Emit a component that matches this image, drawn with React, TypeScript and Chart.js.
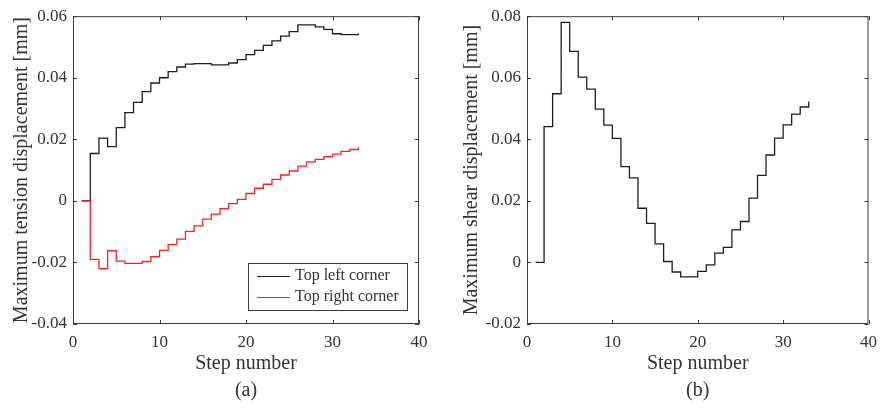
import React, { useEffect, useRef } from "react";
import { Chart, registerables } from "chart.js";

Chart.register(...registerables);

// Load step numbers
const STEPS = [
  1, 2, 3, 4, 5, 6, 7, 8, 9, 10, 11, 12, 13, 14, 15, 16, 17, 18, 19, 20, 21,
  22, 23, 24, 25, 26, 27, 28, 29, 30, 31, 32, 33,
];

// (a) Maximum tension displacement [mm]
const TOP_LEFT = [
  0, 0.0154, 0.0204, 0.0176, 0.0238, 0.0287, 0.032, 0.0355, 0.0383, 0.04,
  0.042, 0.0435, 0.0444, 0.0446, 0.0446, 0.0442, 0.0442, 0.0448, 0.0459,
  0.0475, 0.0489, 0.0505, 0.052, 0.0535, 0.055, 0.0572, 0.0572, 0.0565,
  0.0557, 0.0543, 0.054, 0.054, 0.0544,
];
const TOP_RIGHT = [
  0, -0.019, -0.022, -0.0162, -0.0196, -0.0203, -0.0203, -0.0197, -0.0181,
  -0.0161, -0.0142, -0.0124, -0.0099, -0.0081, -0.0059, -0.0043, -0.0025,
  -0.0009, 0.0005, 0.0024, 0.0041, 0.0054, 0.007, 0.0084, 0.0097, 0.0113,
  0.0127, 0.0135, 0.0144, 0.0152, 0.0161, 0.0167, 0.0174,
];

// (b) Maximum shear displacement [mm]
const SHEAR = [
  0, 0.0441, 0.0548, 0.078, 0.0686, 0.0602, 0.0563, 0.0498, 0.0446, 0.0403,
  0.0311, 0.0275, 0.0176, 0.0127, 0.006, 0.0003, -0.0031, -0.0047, -0.0047,
  -0.0029, -0.0008, 0.003, 0.0049, 0.0106, 0.0133, 0.0209, 0.0283, 0.0349,
  0.0404, 0.0447, 0.0482, 0.0505, 0.0523,
];

// Axis ticks
const X_TICKS = [0, 10, 20, 30, 40];
const X_TICK_LABELS = ["0", "10", "20", "30", "40"];
const YA_TICKS = [-0.04, -0.02, 0, 0.02, 0.04, 0.06];
const YA_TICK_LABELS = ["-0.04", "-0.02", "0", "0.02", "0.04", "0.06"];
const YB_TICKS = [-0.02, 0, 0.02, 0.04, 0.06, 0.08];
const YB_TICK_LABELS = ["-0.02", "0", "0.02", "0.04", "0.06", "0.08"];

const LEGEND_LABELS = ["Top left corner", "Top right corner"];

const SERIF = '"Liberation Serif", "Times New Roman", serif';
const TEXT = "#333333";
const AXIS = "#3a3a3a";
const BLACK = "#1e1e1e";
const RED = "#ff1c1c";

const pts = (ys: number[]) => STEPS.map((s, i) => ({ x: s, y: ys[i] }));

const labelFor = (values: number[], labels: string[]) => (v: number) => {
  const i = values.findIndex((t) => Math.abs(t - v) < 1e-9);
  return i >= 0 ? labels[i] : "";
};

// Box around the plot area with inward tick marks on all four sides
const framePlugin = {
  id: "frame",
  afterDatasetsDraw(chart: any) {
    const { ctx, chartArea: a, scales } = chart;
    const len = 4;
    ctx.save();
    ctx.strokeStyle = AXIS;
    ctx.lineWidth = 1;
    ctx.beginPath();
    ctx.rect(a.left + 0.5, a.top + 0.5, a.right - a.left - 1, a.bottom - a.top - 1);
    for (const t of scales.x.ticks) {
      const px = Math.round(scales.x.getPixelForValue(t.value)) + 0.5;
      ctx.moveTo(px, a.bottom);
      ctx.lineTo(px, a.bottom - len);
      ctx.moveTo(px, a.top);
      ctx.lineTo(px, a.top + len);
    }
    for (const t of scales.y.ticks) {
      const py = Math.round(scales.y.getPixelForValue(t.value)) + 0.5;
      ctx.moveTo(a.left, py);
      ctx.lineTo(a.left + len, py);
      ctx.moveTo(a.right, py);
      ctx.lineTo(a.right - len, py);
    }
    ctx.stroke();
    ctx.restore();
  },
};

// Boxed legend in the lower-right corner of the plot area
const boxLegendPlugin = {
  id: "boxLegend",
  afterDraw(chart: any, _args: any, opts: any) {
    if (!opts || !opts.show) return;
    const { ctx, chartArea: a } = chart;
    const w = 159;
    const h = 47;
    const left = a.right - 12 - w;
    const top = a.bottom - 14 - h;
    ctx.save();
    ctx.fillStyle = "#ffffff";
    ctx.fillRect(left, top, w, h);
    ctx.strokeStyle = AXIS;
    ctx.lineWidth = 1;
    ctx.strokeRect(Math.round(left) + 0.5, Math.round(top) + 0.5, w, h);
    ctx.font = `16px ${SERIF}`;
    ctx.textBaseline = "middle";
    ctx.fillStyle = TEXT;
    const rows = [
      { label: LEGEND_LABELS[0], color: BLACK },
      { label: LEGEND_LABELS[1], color: RED },
    ];
    rows.forEach((r, i) => {
      const y = top + 13 + i * 21;
      ctx.strokeStyle = r.color;
      ctx.lineWidth = 1.2;
      ctx.beginPath();
      ctx.moveTo(left + 9, y + 0.5);
      ctx.lineTo(left + 42, y + 0.5);
      ctx.stroke();
      ctx.fillText(r.label, left + 47, y);
    });
    ctx.restore();
  },
};

type PanelProps = {
  width: number;
  left: number;
  padRight: number;
  yTitle: string;
  yTitlePad: number;
  yAxisWidth: number;
  yTicks: number[];
  yTickLabels: string[];
  caption: string;
  datasets: any[];
  legend: boolean;
};

function Panel(p: PanelProps) {
  const ref = useRef<HTMLCanvasElement | null>(null);

  useEffect(() => {
    if (!ref.current) return;
    const yMin = p.yTicks[0];
    const yMax = p.yTicks[p.yTicks.length - 1];
    const chart = new Chart(ref.current, {
      type: "line",
      data: { datasets: p.datasets },
      plugins: [framePlugin, boxLegendPlugin],
      options: {
        responsive: false,
        animation: false,
        events: [],
        layout: { padding: { top: 14, right: p.padRight, bottom: 0, left: 0 } },
        elements: { point: { radius: 0 }, line: { tension: 0 } },
        plugins: {
          legend: { display: false },
          tooltip: { enabled: false },
          boxLegend: { show: p.legend },
        } as any,
        scales: {
          x: {
            type: "linear",
            min: X_TICKS[0],
            max: X_TICKS[X_TICKS.length - 1],
            afterBuildTicks: (s: any) => {
              s.ticks = X_TICKS.map((v) => ({ value: v }));
            },
            afterFit: (s: any) => {
              s.height = 95;
            },
            grid: { display: false, drawTicks: false },
            border: { display: false },
            ticks: {
              padding: 8,
              color: TEXT,
              font: { family: SERIF, size: 17 },
              maxRotation: 0,
              callback: labelFor(X_TICKS, X_TICK_LABELS) as any,
            },
            title: {
              display: true,
              text: ["Step number", p.caption],
              color: TEXT,
              font: { family: SERIF, size: 20, lineHeight: 1.35 },
              padding: { top: 0, bottom: 15 },
            },
          },
          y: {
            type: "linear",
            min: yMin,
            max: yMax,
            afterBuildTicks: (s: any) => {
              s.ticks = p.yTicks.map((v) => ({ value: v }));
            },
            afterFit: (s: any) => {
              s.width = p.yAxisWidth;
            },
            grid: { display: false, drawTicks: false },
            border: { display: false },
            ticks: {
              padding: 6,
              color: TEXT,
              font: { family: SERIF, size: 17 },
              callback: labelFor(p.yTicks, p.yTickLabels) as any,
            },
            title: {
              display: true,
              text: p.yTitle,
              color: TEXT,
              font: { family: SERIF, size: 20, lineHeight: 1.2 },
              padding: { top: p.yTitlePad, bottom: 0 },
            },
          },
        },
      },
    });
    return () => chart.destroy();
  }, []);

  return (
    <canvas
      ref={ref}
      width={p.width}
      height={419}
      style={{ position: "absolute", left: p.left, top: 0, width: p.width, height: 419 }}
    />
  );
}

export default function App() {
  const tensionSets = [
    {
      label: LEGEND_LABELS[0],
      data: pts(TOP_LEFT),
      borderColor: BLACK,
      borderWidth: 1.3,
      stepped: true,
      fill: false,
      order: 1,
    },
    {
      label: LEGEND_LABELS[1],
      data: pts(TOP_RIGHT),
      borderColor: RED,
      borderWidth: 1.3,
      stepped: true,
      fill: false,
      order: 0,
    },
  ];
  const shearSets = [
    {
      label: "Maximum shear displacement",
      data: pts(SHEAR),
      borderColor: BLACK,
      borderWidth: 1.3,
      stepped: true,
      fill: false,
    },
  ];

  return (
    <div
      style={{
        position: "absolute",
        left: 0,
        top: 0,
        width: 885,
        height: 419,
        background: "#ffffff",
        overflow: "hidden",
      }}
    >
      <Panel
        width={442}
        left={0}
        padRight={23}
        yTitle="Maximum tension displacement [mm]"
        yTitlePad={10}
        yAxisWidth={73}
        yTicks={YA_TICKS}
        yTickLabels={YA_TICK_LABELS}
        caption="(a)"
        datasets={tensionSets}
        legend={true}
      />
      <Panel
        width={443}
        left={442}
        padRight={13}
        yTitle="Maximum shear displacement [mm]"
        yTitlePad={18}
        yAxisWidth={85}
        yTicks={YB_TICKS}
        yTickLabels={YB_TICK_LABELS}
        caption="(b)"
        datasets={shearSets}
        legend={false}
      />
    </div>
  );
}
